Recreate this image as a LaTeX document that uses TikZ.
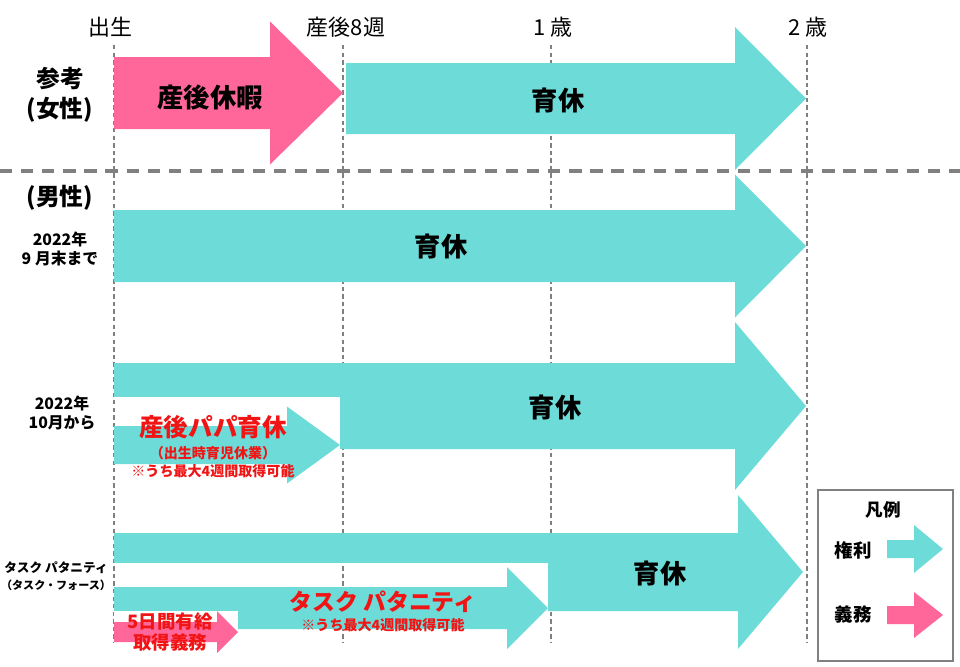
\documentclass[tikz,border=0pt]{standalone}
\usepackage{fontspec}
\setmainfont{Noto Sans CJK JP}
\definecolor{ink}{HTML}{000000}
\definecolor{leave}{HTML}{6DDCD9}
\definecolor{duty}{HTML}{FF6699}
\definecolor{alert}{HTML}{F01414}
\definecolor{rule}{HTML}{808080}

\begin{document}
\begin{tikzpicture}[
  x=0.02cm,y=-0.02cm,
  text=ink,
  ticklabel/.style={font=\fontsize{12.5}{15}\selectfont},
  rowlabel/.style={font=\fontsize{13.5}{17}\selectfont\bfseries,align=center},
  datelabel/.style={font=\fontsize{9}{11}\selectfont\bfseries,align=center},
  barlabel/.style={font=\fontsize{15}{18}\selectfont\bfseries},
  redlabel/.style={text=alert,font=\fontsize{14}{17}\selectfont\bfseries},
  rednote/.style={text=alert,font=\fontsize{8}{10}\selectfont\bfseries},
  keylabel/.style={font=\fontsize{10.5}{12}\selectfont\bfseries},
  guide/.style={draw=rule,line width=.6pt,dash pattern=on 2.5pt off 1.8pt},
  divider/.style={draw=rule,line width=1.8pt,dash pattern=on 7pt off 5pt}
]
  \useasboundingbox (0,0) rectangle (960,666);

  \foreach \x in {114,343,551,807}
    \draw[guide] (\x,45) -- (\x,642);

  \fill[leave] (114,363) rectangle (340,397);
  \fill[leave] (114,533) rectangle (548,563);
  \foreach \col/\xa/\xb/\xc/\yc/\bh/\hh in {
      duty/114/270/343/93/36/71.5,
      leave/346/735/806/98.5/35.5/71.5,
      leave/114/735/806/246/36/71.5,
      leave/340/735/806/406/43/84,
      leave/114/287/340/445/19/38.5,
      leave/548/738/803/572/39/77,
      leave/114/507/548/608/21/41}{
    \fill[\col] (\xa,{\yc-\bh}) -- (\xb,{\yc-\bh}) -- (\xb,{\yc-\hh})
      -- (\xc,\yc) -- (\xb,{\yc+\hh}) -- (\xb,{\yc+\bh})
      -- (\xa,{\yc+\bh}) -- cycle;
  }
  \fill[white] (114,611) rectangle (238,653);
  \foreach \col/\xa/\xb/\xc/\yc/\bh/\hh in {
      duty/114/217/238/632/10/21,
      leave/887/914/943/549/9/24,
      duty/887/914/943/615/9/23}{
    \fill[\col] (\xa,{\yc-\bh}) -- (\xb,{\yc-\bh}) -- (\xb,{\yc-\hh})
      -- (\xc,\yc) -- (\xb,{\yc+\hh}) -- (\xb,{\yc+\bh})
      -- (\xa,{\yc+\bh}) -- cycle;
  }

  \draw[divider] (0,171) -- (960,171);

  \node[ticklabel] (birth) at (110,27) {出生};
  \node[ticklabel] (week8) at (346,27) {産後8週};
  \node[ticklabel] (age1) at (553,27) {1 歳};
  \node[ticklabel] (age2) at (808,27) {2 歳};

  \node[rowlabel] (women) at (60,95) {参考\\(女性)};
  \node[rowlabel] (men) at (60,198) {(男性)};
  \node[datelabel] (untilsep) at (60,249) {2022年\\9 月末まで};
  \node[datelabel] (fromoct) at (62,413) {2022年\\10月から};
  \node[datelabel,font=\fontsize{7.2}{9.6}\selectfont\bfseries]
    (taskrow) at (56,576)
    {タスク パタニティ\\{\fontsize{6.3}{9.6}\selectfont（タスク・フォース）}};

  \node[barlabel] (matleave) at (210,97) {産後休暇};
  \node[barlabel] (ikukyuA) at (558,100) {育休};
  \node[barlabel] (ikukyuB) at (441,246) {育休};
  \node[barlabel] (ikukyuC) at (555,407) {育休};
  \node[barlabel] (ikukyuD) at (660,573) {育休};

  \node[redlabel] (papa) at (213,427) {産後パパ育休};
  \node[rednote] (papakind) at (213,453) {（出生時育児休業）};
  \node[rednote] (papanote) at (213,471) {※うち最大4週間取得可能};

  \node[redlabel,font=\fontsize{13}{16}\selectfont\bfseries]
    (taskred) at (383,602) {タスク パタニティ};
  \node[rednote] (tasknote) at (383,625) {※うち最大4週間取得可能};
  \node[redlabel,font=\fontsize{10.5}{12}\selectfont\bfseries,align=center]
    (paidoff) at (170,632) {5日間有給\\取得義務};

  \draw[rule,line width=1.2pt] (818,490) rectangle (953,661);
  \node[keylabel,font=\fontsize{10}{12}\selectfont\bfseries] (legend) at (883,510) {凡例};
  \node[keylabel] (rightkey) at (853,550) {権利};
  \node[keylabel] (dutykey) at (853,614) {義務};
\end{tikzpicture}
\end{document}
